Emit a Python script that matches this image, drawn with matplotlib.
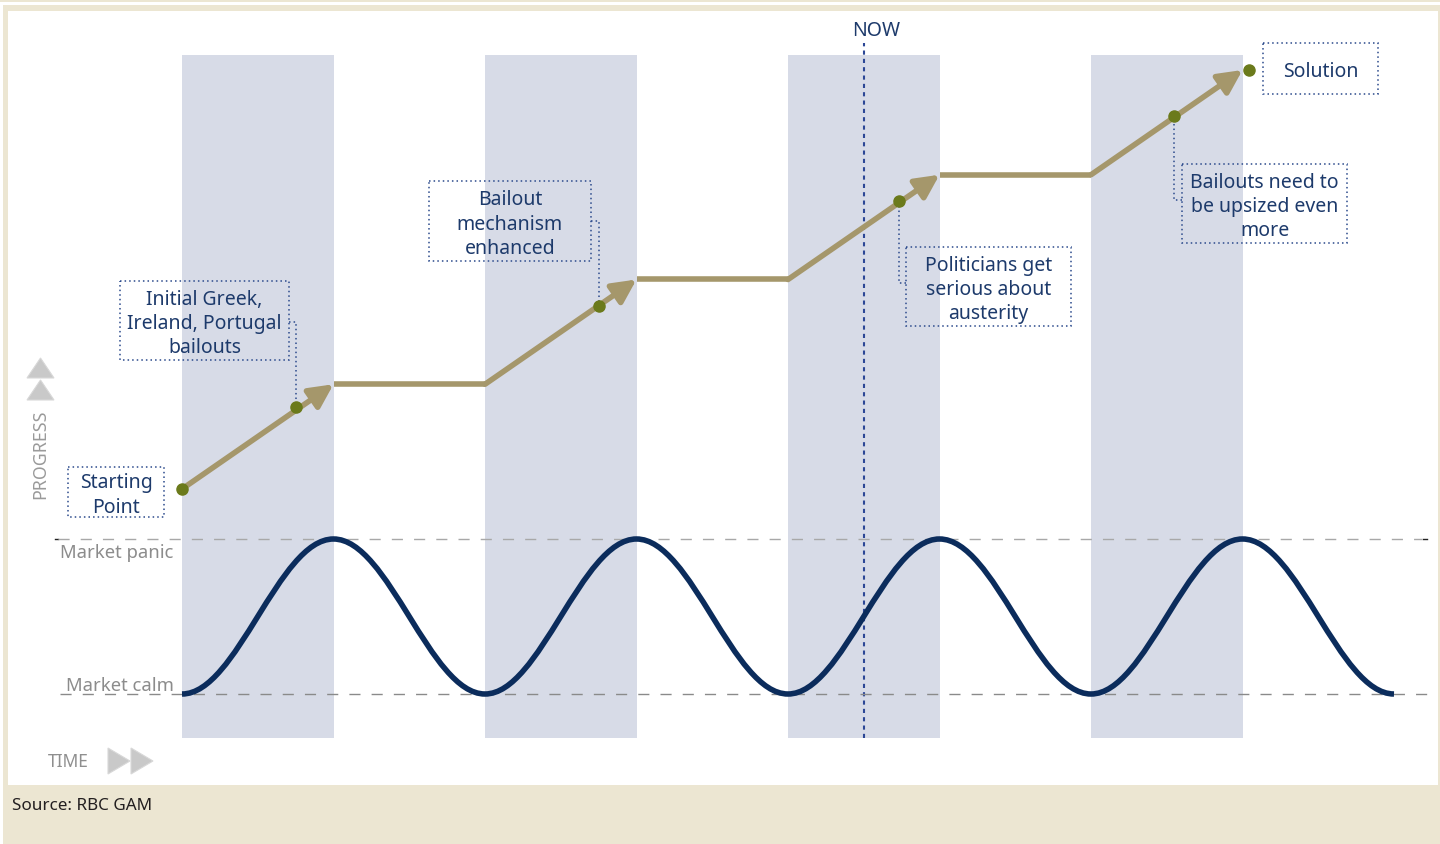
import matplotlib
matplotlib.use("Agg")
import matplotlib.pyplot as plt
from matplotlib.patches import Rectangle, Polygon, PathPatch
from matplotlib.path import Path
from matplotlib.transforms import Affine2D

plt.rcParams["font.family"] = ["Noto Sans", "DejaVu Sans"]

W, H = 1440, 844

# ---- data -------------------------------------------------------------
# crisis phases (shaded bands), in time units
phase_start = [0, 2, 4, 6]
phase_len = 1
# policy progress staircase: (time, level)
progress_t = [0, 1, 2, 3, 4, 5, 6, 7]
progress_p = [0, 1, 1, 2, 2, 3, 3, 4]
# milestone dots
milestone_t = [0, 0.75, 2.75, 4.73, 6.55, 7.04]
milestone_p = [0, 0.78, 1.75, 2.75, 3.56, 4.0]
milestone_labels = [
    "Starting\nPoint",
    "Initial Greek,\nIreland, Portugal\nbailouts",
    "Bailout\nmechanism\nenhanced",
    "Politicians get\nserious about\nausterity",
    "Bailouts need to\nbe upsized even\nmore",
    "Solution",
]
# market stress cycle: 0 = calm, 1 = panic
market_t = [0, 1, 2, 3, 4, 5, 6, 7, 8]
market_m = [0, 1, 0, 1, 0, 1, 0, 1, 0]
now_t = 4.5

# ---- layout (pixels) ---------------------------------------------------
# label box (x0, y0, x1, y1) and leader side / y
label_boxes = [
    ((68, 467, 164, 517), None, None),
    ((120, 281, 289, 360), "right", 322),
    ((429, 181, 591, 261), "right", 221),
    ((906, 247, 1071, 326), "left", 283),
    ((1182, 164, 1347, 243), "left", 200),
    ((1263, 43, 1378, 94), None, None),
]

BEIGE = "#ece6d2"
BAND = "#d7dbe7"
KHAKI = "#a5976b"
OLIVE = "#6b7a1b"
NAVY = "#0b2c5c"
TEXT_NAVY = "#1d3a6b"
BOX_EDGE = "#2b4a8c"
GRAY = "#8c8c8c"
TRI = "#c9c9c9"

fig = plt.figure(figsize=(W / 100, H / 100), dpi=100)
px = Affine2D().scale(1 / W, -1 / H).translate(0, 1) + fig.transFigure


def frame():
    for x, y, w, h in [(0, 0, W, 1.5), (3, 5, W - 3, 6), (3, 5, 5, 785), (1438, 5, 2, 785), (3, 785, W - 3, H - 785)]:
        fig.patches.append(Rectangle((x, y), w, h, transform=px, facecolor=BEIGE, edgecolor="none", zorder=-1))


frame()

# time axis: x_px = 182 + 151.5 t ; progress: y_px = 489 - 104.75 p ; market: y_px = 694 - 155 m
ax = fig.add_axes([0, 0, 1, 1])
ax.set_xlim(-182 / 151.5, (W - 182) / 151.5)
ax.set_ylim((489 - H) / 104.75, 489 / 104.75)
ax.axis("off")
ax.patch.set_visible(False)

axm = ax.twinx()
axm.set_ylim((694 - H) / 155, 694 / 155)
axm.axis("off")

# shaded crisis bands
for s in phase_start:
    ax.axvspan(s, s + phase_len, ymin=(H - 738) / H, ymax=(H - 55) / H, color=BAND, lw=0, zorder=1)

# NOW marker
ax.axvline(now_t, ymin=(H - 738) / H, ymax=(H - 43) / H, color="#2c4796", lw=1.5, ls=(0, (2, 2)), zorder=2)
ax.text(876, 31, "NOW", transform=px, ha="center", va="center", fontsize=14, color=TEXT_NAVY)

# market panic / calm guides
axm.axhline(1, xmin=58 / W, xmax=1422 / W, color="#a8a8a8", lw=1.0, ls=(0, (8, 8)), zorder=2)
axm.axhline(0, xmin=60 / W, xmax=1432 / W, color="#8a8a8a", lw=1.0, ls=(0, (8, 8)), zorder=2)
for xa, xb in [(55, 58), (1423, 1427)]:
    ax.plot([xa, xb], [539, 539], transform=px, color="#222222", lw=1.0, zorder=2)
ax.text(60, 553, "Market panic", transform=px, ha="left", va="center", fontsize=13.3, color=GRAY)
ax.text(66, 686, "Market calm", transform=px, ha="left", va="center", fontsize=13.3, color=GRAY)

# market wave drawn as cubic Bezier segments between extremes
k = 0.364
verts = [(market_t[0], market_m[0])]
codes = [Path.MOVETO]
for i in range(1, len(market_t)):
    t0, m0 = market_t[i - 1], market_m[i - 1]
    t1, m1 = market_t[i], market_m[i]
    dt = t1 - t0
    verts += [(t0 + k * dt, m0), (t1 - k * dt, m1), (t1, m1)]
    codes += [Path.CURVE4] * 3
axm.add_patch(PathPatch(Path(verts, codes), facecolor="none", edgecolor=NAVY, lw=4.0, capstyle="butt", zorder=3))

# progress staircase: flat segments + rising arrows
for i in range(len(progress_t) - 1):
    a = (progress_t[i], progress_p[i])
    b = (progress_t[i + 1], progress_p[i + 1])
    if a[1] == b[1]:
        ax.plot([a[0], b[0]], [a[1], b[1]], color=KHAKI, lw=4, solid_capstyle="butt", zorder=4)
    else:
        ax.annotate("", xy=b, xytext=a,
                    arrowprops=dict(arrowstyle="-|>,head_length=1.1,head_width=0.55", mutation_scale=13,
                                    lw=4, color=KHAKI, shrinkA=0, shrinkB=0), zorder=4)

ax.plot(milestone_t, milestone_p, "o", ms=8, color=OLIVE, mec=OLIVE, zorder=6)

# label boxes and leaders
for (box, side, ly), label, t, p in zip(label_boxes, milestone_labels, milestone_t, milestone_p):
    x0, y0, x1, y1 = box
    ax.add_patch(Rectangle((x0, y0), x1 - x0, y1 - y0, transform=px, facecolor="none",
                           edgecolor=BOX_EDGE, lw=1.1, ls=(0, (1, 2)), zorder=5))
    ax.text((x0 + x1) / 2, (y0 + y1) / 2 + 3.5, label, transform=px, ha="center", va="center",
            fontsize=14, color=TEXT_NAVY, linespacing=1.27, zorder=6)
    if side is None:
        continue
    dx, dy = ax.transData.transform((t, p))
    dy = H - dy
    edge = x1 if side == "right" else x0
    ax.plot([edge, dx, dx], [ly, ly, dy], transform=px, color=BOX_EDGE, lw=1.1, ls=(0, (1, 2)), zorder=5)

# axis hints
ax.text(40, 454, "PROGRESS", transform=px, rotation=90, ha="center", va="center", fontsize=12.8, color="#9a9a9a")
for ytop in (358, 380):
    ax.add_patch(Polygon([(27, ytop + 20), (54, ytop + 20), (40.5, ytop)], closed=True, transform=px,
                         facecolor=TRI, edgecolor="#d8d8d8", lw=0.8))
ax.text(48, 762, "TIME", transform=px, ha="left", va="center", fontsize=12.5, color="#8f8f8f")
for xl in (108, 131):
    ax.add_patch(Polygon([(xl, 748), (xl, 774), (xl + 22, 761)], closed=True, transform=px,
                         facecolor=TRI, edgecolor="#d8d8d8", lw=0.8))

ax.text(12, 806, "Source: RBC GAM", transform=px, ha="left", va="center", fontsize=12.3, color="#231f20")

fig.savefig("out.png", dpi=100)
